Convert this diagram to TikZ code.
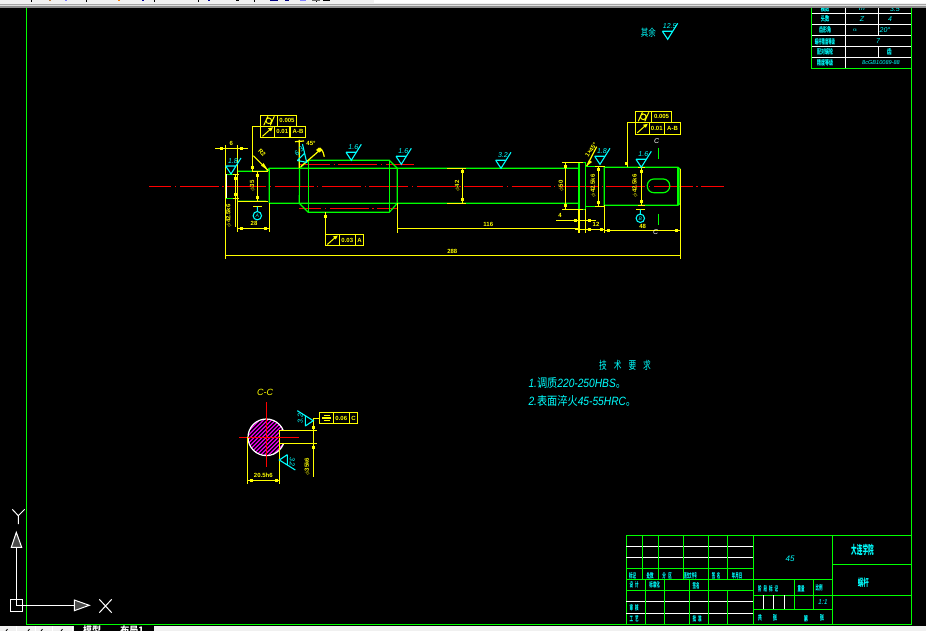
\documentclass[tikz,border=0pt]{standalone}
\usepackage{graphicx}
\usepackage{fontspec}
\setmainfont{Liberation Sans}
\newfontfamily\cjk{Noto Sans CJK SC}
\definecolor{gn}{RGB}{0,255,0}
\definecolor{yl}{RGB}{255,255,0}
\definecolor{cy}{RGB}{0,255,255}
\definecolor{rd}{RGB}{255,0,0}
\definecolor{mg}{RGB}{255,0,255}
\definecolor{barbg}{RGB}{240,240,240}
\newcounter{tn}
\newcommand\T[4][]{\stepcounter{tn}\node[#1] (t\arabic{tn}) at (#2,#3) {#4};}
% narrow, tall CJK label: horizontal scale, x, y, text
\newcommand\C[5][]{\T[cnt,#1]{#3}{#4}{\scalebox{#2}[1]{#5}}}
\newcommand\dd[2]{\fill[yl] (#1-1.5,#2-1.5) rectangle (#1+1.5,#2+1.5);}
% roughness: tip x, y, label, optional rotation
\newcommand\rgh[4][0]{\begin{scope}[shift={(#2,#3)},rotate=#1]
\draw[cyl] (-5.3,-8)--(5.3,-8) (-5.3,-8)--(0,0)--(10,-16);
\T[cyt,transform shape]{2}{-13}{#4}
\end{scope}}
% cylindricity symbol
\newcommand\cylsym[2]{\draw[yl,line width=1pt] (#1-5,#2+4.5)--(#1-1,#2-4.5) (#1+1.5,#2+4.5)--(#1+5.5,#2-4.5) (#1,#2) circle (2.8);}
% runout symbol
\newcommand\runsym[2]{\draw[yl,line width=1pt] (#1-5,#2+4.5)--(#1+4,#2-3.5);\fill[yl] (#1+5.5,#2-4.5)--(#1+.5,#2-3.5)--(#1+3.5,#2-.5)--cycle;}
\newcommand\rdim[4][]{\T[ydt,rotate=90,#1]{#2}{#3}{#4}}
\tikzset{
 cyl/.style={cy,line width=1.1pt},
 gl/.style={gn,line width=1.2pt},
 yw/.style={yl,line width=1.2pt},
 wl/.style={white,line width=1.2pt},
 center/.style={rd,line width=1.3pt,dash pattern=on 39pt off 3.6pt on 1.2pt off 3.6pt},
 ydt/.style={text=yl,font=\bfseries\fontsize{6}{6}\selectfont,inner sep=0pt},
 cyt/.style={text=cy,font=\itshape\fontsize{7}{7}\selectfont,inner sep=0pt},
 cnt/.style={text=cy,font=\cjk\bfseries\fontsize{7}{7}\selectfont,inner sep=0pt},
 big/.style={text=cy,font=\fontsize{12}{12}\selectfont,inner sep=0pt,anchor=west},
}
\begin{document}
\begin{tikzpicture}[x=1pt,y=-1pt]
\useasboundingbox (0,0) rectangle (926,631);
\fill[black] (0,0) rectangle (926,631);
\clip (0,0) rectangle (926,631);

% ---------- frame
\draw[gl] (26.3,0)--(26.3,624.5)--(911.3,624.5)--(911.3,0);

% ---------- centre lines
\draw[center,dash phase=16.6pt] (149,186.3)--(724,186.3);
\draw[center,dash phase=9pt] (300,164.3)--(414,164.3);
\draw[center,dash phase=16.6pt] (299,208.3)--(397,208.3);

% ---------- shaft outline
\draw[gl] (226,174.5)--(237.5,174.5) (226,198.3)--(237.5,198.3);
\draw[wl] (226.2,174.5)--(226.2,198.3);
\draw[gl] (237.5,171.3)--(266,171.3)--(269.3,168.3)--(579,168.3)
          (237.5,201.3)--(266,201.3) (269.3,203.3)--(579,203.3)
          (269.3,168.3)--(269.3,203.3);
\draw[gl] (299.5,168.3)--(308.3,160.3)--(389.3,160.3)--(397.3,168.3)--(397.3,203.3)--(389.3,212.3)--(308.3,212.3)--(299.3,203.3)--cycle;
\draw[gl] (308.3,160.3)--(308.3,212.3) (389.3,160.3)--(389.3,212.3);
\draw[gl] (579,162.3)--(585.7,162.3)--(585.7,209.3)--(579,209.3)--cycle;
\draw[gl] (585.7,166.3)--(604.3,166.3) (585.7,206.3)--(604.3,206.3);
\draw[gl] (604.3,167.3)--(678,167.3)--(680,169)--(680,203.5)--(678,205.3)--(604.3,205.3)--cycle;
\draw[gl] (678,167.3)--(678,205.3);
\draw[gl,rounded corners=6.5pt] (647.3,179) rectangle (669.7,192.7);

% ---------- dimensions, main view
\draw[yw] (225.3,145)--(225.3,259.3) (237.3,145)--(237.3,231.7);
\draw[yw] (215,148.3)--(247.7,148.3);
\dd{221}{148.3}\dd{241}{148.3}
\T[ydt]{231.3}{143.5}{6}
\draw[yw] (235.7,174.7)--(235.7,226.7) (232.5,174.7)--(239,174.7) (232.5,198.3)--(239,198.3);
\dd{235.7}{178.3}\dd{235.7}{194.7}
\rdim{228.7}{216}{$\phi$42.5k6}
\draw[yw] (237.3,228.3)--(269.3,228.3) (269.3,203.3)--(269.3,231.7);
\dd{241.3}{228.3}\dd{265.3}{228.3}
\T[ydt]{254}{223.3}{28}
\draw[yw] (257.3,171.3)--(257.3,201.3) (252,171.3)--(268,171.3) (237.5,201.3)--(268,201.3);
\dd{257.3}{175.3}\dd{257.3}{197.3}
\rdim{252.7}{186}{$\phi$35}
\draw[yw] (225.3,255.3)--(680,255.3);
\T[ydt]{452.3}{251.3}{288}
\draw[yw] (397.3,228.3)--(579,228.3) (397.3,203.3)--(397.3,232.7);
\T[ydt]{488.3}{224.7}{116}
% chamfer / R leader
\draw[yw] (253.3,155.7)--(268.3,170.7);
\fill[yl] (268.3,170.7)--(261,165.5)--(263.5,163)--cycle;
\T[ydt,rotate=-45]{262}{152.5}{R2}
% tolerance box left
\draw[yw] (260.3,115.3) rectangle (296.7,126.3) (277.3,115.3)--(277.3,126.3);
\draw[yw] (260.3,126.3) rectangle (305.7,137.3) (274.7,126.3)--(274.7,137.3) (290,126.3)--(290,137.3);
\draw[yw] (260.3,126.3)--(252.3,126.3)--(252.3,171.3);
\dd{252.3}{167.3}
\cylsym{268.8}{120.8}\runsym{267.5}{131.8}
\T[ydt]{287}{120.8}{0.005}
\T[ydt]{282.3}{131.8}{0.01}
\T[ydt]{298}{131.8}{A-B}
% 45 deg
\draw[yw] (300.7,166.7)--(320,150) (299.3,168)--(299.3,140) (295,141.7)--(304,141);
\draw[yw] (320,148) .. controls (323,151) and (324,154) .. (324.3,156.7);
\fill[yl] (319,147.5)--(322.5,150)--(319.5,152.5)--(316,150)--cycle;
\T[ydt]{311}{143.3}{45°}
\rgh[45]{306.7}{162.4}{6.3}
% tolerance 0.03
\draw[yw] (325.3,234.3) rectangle (363.7,245.7) (339.3,234.3)--(339.3,245.7) (355.3,234.3)--(355.3,245.7);
\draw[yw] (325.3,212.3)--(325.3,234.3);
\dd{325.3}{216.3}
\runsym{332.3}{240}
\T[ydt]{347.3}{240}{0.03}
\T[ydt]{359.5}{240}{A}
% phi 42
\draw[yw] (462.3,168.3)--(462.3,203.3) (447.3,168.3)--(466,168.3) (447.3,203.3)--(466,203.3);
\dd{462.3}{172}\dd{462.3}{199.3}
\rdim{457.7}{186}{$\phi$42}
% phi 50
\draw[yw] (565.3,162.3)--(565.3,209.3) (562.3,162.3)--(583,162.3) (562.3,209.3)--(583,209.3);
\dd{565.7}{166.7}\dd{565.7}{205.3}
\rdim{561.3}{186}{$\phi$50}
% 4, 12
\draw[yw] (579,209.3)--(579,232.7) (585.3,209.3)--(585.3,232.7);
\draw[yw] (556,220.3)--(596,220.3);
\dd{575.3}{220.3}\dd{589.3}{220.3}
\T[ydt]{560}{215.7}{4}
\draw[yw] (575.3,229.3)--(604.3,229.3);
\dd{589.3}{229.3}\dd{601.7}{229.3}
\T[ydt]{596}{224.7}{12}
% phi 42.5 right
\draw[yw] (598.3,166.3)--(598.3,206.3) (595,166.3)--(605,166.3) (595,206.3)--(605,206.3);
\dd{598.3}{170}\dd{598.3}{202.7}
\rdim{593.3}{186}{$\phi$42.5k6}
\draw[yw] (586.7,166)--(596.7,146.7);
\fill[yl] (586.7,166)--(589,160)--(592,162)--cycle;
\T[ydt,rotate=55]{591}{150}{1×45°}
\rgh{600}{164.3}{1.8}
% phi 42.5 far right
\draw[yw] (641.3,167.3)--(641.3,205.3) (637.5,167.3)--(645,167.3) (637.5,205.3)--(645,205.3);
\dd{641.3}{171.3}\dd{641.3}{201.3}
\rdim{635}{186}{$\phi$42.5k6}
% 48 and end lines
\draw[yw] (604.3,205.3)--(604.3,233.3) (604.3,230.3)--(680,230.3) (680.5,169)--(680.5,259.3);
\dd{608.3}{230.3}\dd{676}{230.3}
\T[ydt]{642.7}{226.3}{48}
% tolerance box right
\draw[yw] (635.3,111.3) rectangle (671.7,122.3) (651.3,111.3)--(651.3,122.3);
\draw[yw] (635.3,122.3) rectangle (680.7,134.3) (649.3,122.3)--(649.3,134.3) (664.3,122.3)--(664.3,134.3);
\draw[yw] (635.3,122.3)--(627.3,122.3)--(627.3,167.3);
\dd{626.7}{163.3}
\cylsym{643.3}{116.8}\runsym{642.3}{128.3}
\T[ydt]{661.5}{116.8}{0.005}
\T[ydt]{656.8}{128.3}{0.01}
\T[ydt]{672.5}{128.3}{A-B}
% cut marks
\T[text=white,font=\itshape\fontsize{7}{7}\selectfont,inner sep=0pt]{656.7}{141.3}{C}
\T[text=white,font=\itshape\fontsize{7}{7}\selectfont,inner sep=0pt]{655.7}{232.3}{C}
\draw[gl] (658.3,148)--(658.3,159) (658.3,214)--(658.3,225);

% roughness symbols main view
\rgh{231}{174}{1.8}
\rgh{351.3}{160.3}{1.6}
\rgh{401.3}{164.3}{1.6}
\rgh{501}{168.3}{3.2}
\rgh{641.3}{167.3}{1.6}
\rgh{667.7}{39.3}{12.5}
\C[font=\cjk\fontsize{10}{10}\selectfont]{.75}{648.3}{32.3}{其余}
% circled marks
\draw[yw] (253.3,206.7)--(261.7,206.7);
\draw[cyl] (257.3,206.7)--(257.3,211.5) (257.3,215.7) circle (4.2);
\T[cyt,font=\itshape\fontsize{5}{5}\selectfont]{257.3}{215.7}{A}
\draw[yw] (636,209.3)--(645,209.3);
\draw[cyl] (640.3,209.3)--(640.3,214) (640.3,218.3) circle (4.2);
\T[cyt,font=\itshape\fontsize{5}{5}\selectfont]{640.3}{218.3}{B}

% ---------- technical requirements
\C[font=\cjk\fontsize{11}{11}\selectfont]{.7}{625}{365.3}{技\hspace{10pt}术\hspace{10pt}要\hspace{10pt}求}
\T[big]{528.3}{382.7}{\scalebox{.85}[1]{\itshape 1.{\cjk\upshape 调质}220-250HBS{\cjk\upshape 。}}}
\T[big]{528.3}{400.7}{\scalebox{.85}[1]{\itshape 2.{\cjk\upshape 表面淬火}45-55HRC{\cjk\upshape 。}}}

% ---------- section C-C
\T[text=yl,font=\itshape\fontsize{9}{9}\selectfont,inner sep=0pt]{265}{392.7}{C-C}
\begin{scope}
\clip (266.3,437.3) circle (18.3);
\foreach \k in {-40,-36,...,40}{
  \draw[mg,line width=1.2pt] (266.3+\k-25,437.3+25)--(266.3+\k+25,437.3-25);
}
\end{scope}
\draw[wl] (266.3,437.3) circle (18.3);
\fill[black] (279.6,430.7) rectangle (290,443.3);
\draw[yw] (279.3,430.7)--(279.3,443.3);
\draw[rd,line width=1.2pt] (239,437.3)--(299,437.3) (266.3,402)--(266.3,467.3);
\draw[yw] (279.3,430.7)--(316.7,430.7) (279.3,443.3)--(316.7,443.3);
\draw[yw] (313.3,418.3)--(313.3,477.3);
\dd{313.3}{427.3}\dd{313.3}{447.3}
\draw[yw] (319.3,412.3) rectangle (357.7,423.7) (333.3,412.3)--(333.3,423.7) (349.3,412.3)--(349.3,423.7);
\draw[yw] (319.3,418.3)--(313.3,418.3);
\draw[yw] (322,418)--(331,418) (323.5,415.5)--(329.5,415.5) (323.5,420.5)--(329.5,420.5);
\T[ydt]{341.3}{418}{0.06}
\T[ydt]{353.5}{418}{C}
\draw[yw] (247.3,437.3)--(247.3,484) (279.3,443.3)--(279.3,484) (247.3,480.7)--(279.3,480.7);
\dd{251}{480.7}\dd{276}{480.7}
\T[ydt]{263.3}{475}{20.5h6}
\rdim{307.3}{466.7}{$\phi$35k6}
\rgh[90]{313.3}{420.7}{3.2}
\rgh[-90]{279.3}{460}{3.2}

% ---------- title block
\draw[gl] (626.3,535.3) rectangle (911.3,624.5);
\draw[wl] (626.3,546.3)--(753.3,546.3) (626.3,557.3)--(753.3,557.3)
          (626.3,601.3)--(753.3,601.3) (626.3,613.3)--(753.3,613.3);
\draw[gl] (626.3,568.3)--(753.3,568.3) (626.3,579.3)--(832.3,579.3) (626.3,590.3)--(753.3,590.3);
\foreach \x in {642.3,658.3,683.3,708.3,727.3}{\draw[gl] (\x,535.3)--(\x,579.3);}
\foreach \x in {645.3,664.3,689.3,708.3}{\draw[gl] (\x,579.3)--(\x,624.5);}
\draw[gl] (727.3,590.3)--(727.3,624.5);
\draw[gl] (753.3,535.3)--(753.3,624.5) (832.3,535.3)--(832.3,624.5);
\draw[gl] (832.3,564.3)--(911.3,564.3) (753.3,595.3)--(911.3,595.3) (753.3,609.3)--(832.3,609.3);
\draw[gl] (794.3,579.3)--(794.3,609.3) (813.3,579.3)--(813.3,609.3);
\draw[wl] (763.3,595.3)--(763.3,609.3) (773.3,595.3)--(773.3,609.3) (784.3,595.3)--(784.3,609.3);
\T[cyt,font=\itshape\fontsize{8}{8}\selectfont]{790}{558.3}{45}
\C[font=\cjk\bfseries\fontsize{12}{12}\selectfont]{.47}{862.5}{550}{大连学院}
\C[font=\cjk\bfseries\fontsize{10}{10}\selectfont]{.55}{863.3}{582.3}{蜗杆}
\C{.5}{632.5}{575.5}{标记}
\C{.5}{650}{575.5}{处数}
\C{.5}{667}{575.5}{分\hspace{5pt}区}
\C{.36}{690.5}{575.5}{更改文件号}
\C{.5}{716}{575.5}{签\hspace{3pt}名}
\C{.5}{737}{575.5}{年月日}
\C{.5}{634}{585}{设\hspace{4pt}计}
\C{.5}{654.5}{585}{标准化}
\C{.5}{696}{586}{签名}
\C{.5}{634}{608}{审\hspace{4pt}核}
\C{.5}{634}{619}{工\hspace{4pt}艺}
\C{.5}{697}{619}{批\hspace{4pt}准}
\C{.5}{768}{588.3}{阶\hspace{4pt}段\hspace{4pt}标\hspace{4pt}记}
\C{.5}{801}{588.3}{重量}
\C{.5}{819}{588.3}{比例}
\T[cyt]{823}{602.3}{1:1}
\C{.6}{760}{618.3}{共}
\C{.6}{775}{618.3}{张}
\C{.6}{806}{618.3}{第}
\C{.6}{822}{618.3}{张}

% ---------- parameter table
\draw[wl] (811.7,13.3)--(911.3,13.3) (811.7,24.3)--(911.3,24.3) (811.7,35.3)--(911.3,35.3)
          (811.7,46.3)--(911.3,46.3) (811.7,57.3)--(911.3,57.3);
\draw[wl] (845.7,0)--(845.7,68.3) (878.3,0)--(878.3,35.3) (878.3,46.3)--(878.3,57.3);
\draw[gl] (811.7,0)--(811.7,68.3)--(911.3,68.3);
\C{.6}{825}{8.7}{模数}
\C{.6}{825}{19}{头数}
\C{.57}{825}{30.3}{齿形角}
\C{.48}{825}{41.5}{蜗杆精度等级}
\C{.57}{825}{52}{配对蜗轮}
\C{.57}{825}{63}{精度等级}
\T[cyt]{862}{8.7}{m}
\T[cyt]{895}{8.7}{3.5}
\T[cyt]{862}{19}{Z}
\T[cyt]{890}{19}{4}
\T[cyt,font=\fontsize{6}{6}\selectfont]{855}{30.3}{$\alpha$}
\T[cyt]{885}{30.3}{20°}
\T[cyt]{878}{41.5}{7}
\C{.7}{889.3}{52}{齿}
\T[cyt,font=\itshape\fontsize{5.6}{5.6}\selectfont]{881}{63}{8cGB10089-88}

% ---------- UCS icon
\draw[wl] (10.3,599.3) rectangle (22.7,611.7);
\draw[wl] (16.3,605.3)--(74.3,605.3) (16.3,605.3)--(16.3,547.3);
\draw[white,line width=1pt,fill=black!70] (74.3,600)--(89.3,605.3)--(74.3,610.7)--cycle;
\draw[white,line width=1pt,fill=black!70] (11.3,547.3)--(16.3,532.3)--(21.7,547.3)--cycle;
\draw[white,line width=1pt] (99.3,599.3)--(111.7,612.7) (111.7,599.3)--(99.3,612.7);
\draw[white,line width=1pt] (12.3,509.3)--(18.3,515.7)--(24.7,509.3) (18.3,515.7)--(18.3,524);

% ---------- window chrome, top
\fill[barbg] (0,0) rectangle (926,4);
\fill[black!35] (0,4) rectangle (926,5);
\fill[black!12] (0,5) rectangle (926,6.5);
\fill[black!45] (0,6.5) rectangle (926,7.7);
\fill[white] (374,0) rectangle (926,3);
\foreach \x/\c in {31/black,86/black,154/black,198/black,254/black,316/black}{\fill[\c] (\x,0) rectangle (\x+.8,2);}
\foreach \x/\w/\c in {49/2/brown,65/2/blue!50,118/2/orange,142/2/blue!60!black,208/2/blue!60!black,236/3/black,270/8/blue!50!black,285/4/blue!50!black,300/6/blue!50,312/8/black!60,323/7/black}{\fill[\c] (\x,0) rectangle (\x+\w,1.5);}

% ---------- window chrome, bottom
\fill[barbg] (0,626) rectangle (926,631);
\fill[black] (74,625.5) rectangle (153.5,631);
\foreach \x in {15.5,35,51.5,72}{\fill[white] (\x,626) rectangle (\x+.8,631);}
\foreach \x in {6,28,41,61}{\draw[black,line width=.8pt] (\x,631)--(\x+1.5,629);}
\T[text=white,font=\cjk\bfseries\fontsize{9}{9}\selectfont,inner sep=0pt,anchor=north]{92}{625.3}{模型}
\T[text=white,font=\cjk\bfseries\fontsize{9}{9}\selectfont,inner sep=0pt,anchor=north]{132}{625.3}{布局1}
\end{tikzpicture}
\end{document}
